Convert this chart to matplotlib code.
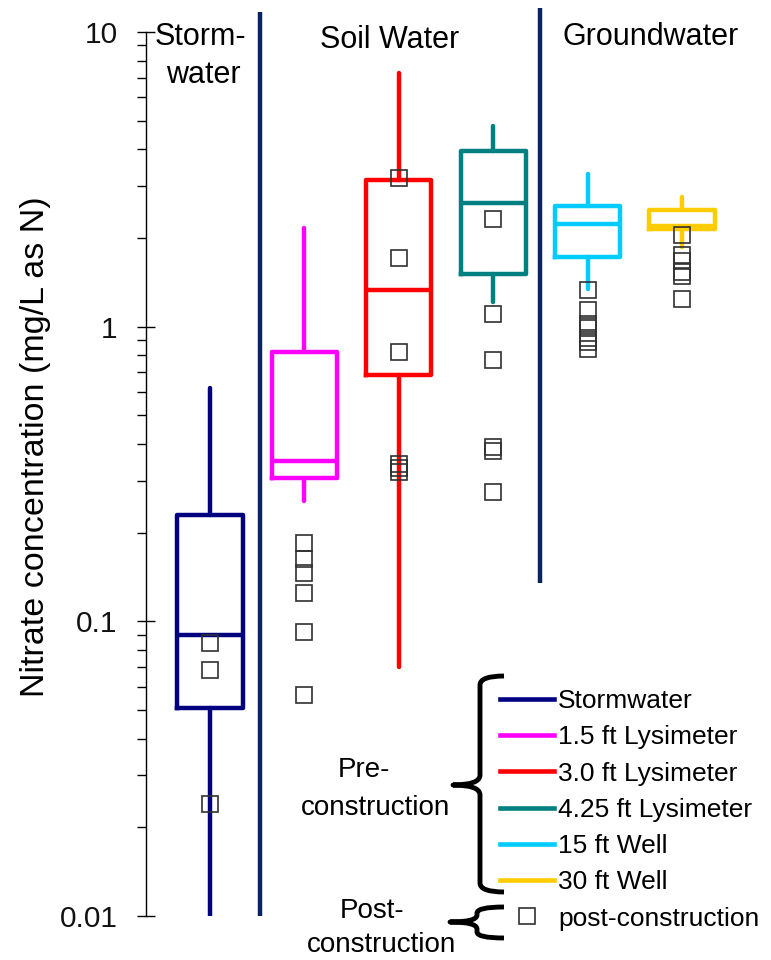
import matplotlib
matplotlib.use("Agg")
import matplotlib.pyplot as plt
from matplotlib.lines import Line2D
from matplotlib.path import Path
from matplotlib.patches import PathPatch
from matplotlib.transforms import Affine2D
from matplotlib.ticker import LogLocator, FuncFormatter, NullFormatter

plt.rcParams['font.family'] = ['Liberation Sans', 'DejaVu Sans']

# ---- data -------------------------------------------------------------
series = ["Stormwater", "1.5 ft Lysimeter", "3.0 ft Lysimeter",
          "4.25 ft Lysimeter", "15 ft Well", "30 ft Well"]
colors = ["#000080", "#FF00FF", "#FF0000", "#008080", "#00CCFF", "#FFCC00"]

# pre-construction box statistics (mg/L as N)
whisker_high = [0.62, 2.16, 7.26, 4.80, 3.30, 2.75]
upper_quartile = [0.23, 0.82, 3.15, 3.95, 2.57, 2.49]
medians = [0.09, 0.35, 1.33, 2.63, 2.23, 2.20]
lower_quartile = [0.051, 0.307, 0.686, 1.51, 1.72, 2.15]
whisker_low = [0.01, 0.257, 0.070, 1.21, 1.34, 1.86]

# post-construction samples
post_stormwater = [0.0845, 0.0684, 0.024]
post_lys_1_5 = [0.184, 0.163, 0.146, 0.125, 0.092, 0.0563]
post_lys_3_0 = [3.19, 1.71, 0.82, 0.342, 0.332, 0.321]
post_lys_4_25 = [2.32, 1.10, 0.771, 0.391, 0.379, 0.275]
post_well_15 = [1.332, 1.139, 1.021, 0.990, 0.916, 0.887, 0.840]
post_well_30 = [2.04, 1.747, 1.675, 1.537, 1.483, 1.242]
post_samples = [post_stormwater, post_lys_1_5, post_lys_3_0,
                post_lys_4_25, post_well_15, post_well_30]

y_ticks = [0.01, 0.1, 1, 10]

# group dividers: x position, bottom, top (data units)
divider_x = [1.53, 4.5]
divider_bottom = [0.01, 0.135]
divider_top = [11.7, 12.06]

# ---- figure ------------------------------------------------------------
W, H = 771, 960
fig = plt.figure(figsize=(W / 100, H / 100), dpi=100)


def fx(x):
    return x / W


def fy(y):
    return 1 - y / H


ax = fig.add_axes([fx(146), fy(916), fx(771) - fx(146), (916 - 32) / H])
ax.set_yscale("log")
ax.set_ylim(0.01, 10)
ax.set_xlim(0.322, 6.943)

positions = list(range(1, len(series) + 1))
lw = 3.2
square = dict(linestyle="none", marker="s", markersize=11.2,
              markerfacecolor="none", markeredgecolor="#303030",
              markeredgewidth=1.2)
for i, (name, c) in enumerate(zip(series, colors)):
    stats = [dict(whislo=whisker_low[i], q1=lower_quartile[i], med=medians[i],
                  q3=upper_quartile[i], whishi=whisker_high[i], label=name)]
    ax.bxp(stats, positions=[positions[i]], widths=0.69,
           showcaps=False, showfliers=False,
           boxprops=dict(color=c, linewidth=lw, solid_joinstyle="round"),
           whiskerprops=dict(color=c, linewidth=lw, solid_capstyle="round"),
           medianprops=dict(color=c, linewidth=lw))
    ax.plot([positions[i]] * len(post_samples[i]), post_samples[i],
            zorder=5, **square)

for x, y0, y1 in zip(divider_x, divider_bottom, divider_top):
    ax.plot([x, x], [y0, y1], color="#0A2363", linewidth=3.2,
            solid_capstyle="butt", clip_on=False, zorder=4)

# axis styling
for s in ["top", "right", "bottom"]:
    ax.spines[s].set_visible(False)
ax.spines["left"].set_linewidth(1.0)
ax.set_xticks([])
ax.set_yticks(y_ticks)
ax.yaxis.set_major_formatter(FuncFormatter(lambda v, p: f"{v:g}"))
ax.yaxis.set_minor_locator(LogLocator(base=10, subs=range(2, 10)))
ax.yaxis.set_minor_formatter(NullFormatter())
ax.tick_params(axis="y", which="major", direction="inout", length=13,
               width=1.0, pad=14, labelsize=21.5, labelcolor="#111111")
ax.tick_params(axis="y", which="minor", direction="out", length=6.5,
               width=1.0)

fig.text(fx(36), fy(697), "Nitrate concentration (mg/L as N)", rotation=90,
         ha="center", va="bottom", fontsize=24.5)

# group headings
fig.text(fx(155), fy(45), "Storm-", fontsize=22, ha="left", va="baseline")
fig.text(fx(166), fy(83), "water", fontsize=22, ha="left", va="baseline")
fig.text(fx(320), fy(48), "Soil Water", fontsize=22, ha="left", va="baseline")
fig.text(fx(563), fy(45), "Groundwater", fontsize=22, ha="left", va="baseline")

# legend
handles = [Line2D([], [], color=c, linewidth=3.3) for c in colors]
handles.append(Line2D([], [], **square))
labels = series + ["post-construction"]
fig.legend(handles, labels, loc="upper left",
           bbox_to_anchor=(fx(500), fy(689)), bbox_transform=fig.transFigure,
           frameon=False, fontsize=19, handlelength=2.05, handletextpad=0.15,
           labelspacing=0.465, borderpad=0, borderaxespad=0, numpoints=1)

# braces
pix = Affine2D().scale(1 / W, -1 / H).translate(0, 1) + fig.transFigure


def brace(x_end, x_mid, x_tip, y_top, y_tip, y_bot, r, r2):
    verts = [(x_end, y_top), (x_mid, y_top), (x_mid, y_top + r),
             (x_mid, y_tip - r2), (x_mid, y_tip), (x_tip, y_tip),
             (x_mid, y_tip), (x_mid, y_tip + r2),
             (x_mid, y_bot - r), (x_mid, y_bot), (x_end, y_bot)]
    codes = [Path.MOVETO, Path.CURVE3, Path.CURVE3,
             Path.LINETO, Path.CURVE3, Path.CURVE3,
             Path.CURVE3, Path.CURVE3,
             Path.LINETO, Path.CURVE3, Path.CURVE3]
    fig.patches.append(PathPatch(Path(verts, codes), transform=pix,
                                 fill=False, linewidth=3.5, edgecolor="black",
                                 capstyle="butt", joinstyle="round"))


brace(504, 480, 453, 676, 785, 892, 9, 10)
brace(504, 477, 450, 907, 922, 938, 6, 7)

fig.text(fx(338), fy(777), "Pre-", fontsize=20, ha="left", va="baseline")
fig.text(fx(301), fy(815), "construction", fontsize=20, ha="left",
         va="baseline")
fig.text(fx(340), fy(918), "Post-", fontsize=20, ha="left", va="baseline")
fig.text(fx(307), fy(952), "construction", fontsize=20, ha="left",
         va="baseline")

fig.savefig("out.png", dpi=100)
